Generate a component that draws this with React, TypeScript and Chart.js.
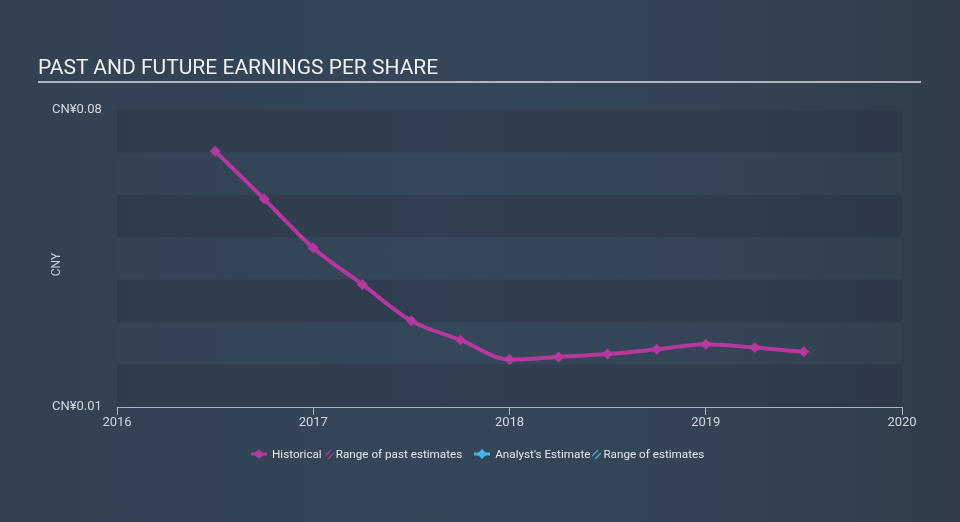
import React, { useEffect, useRef } from "react";
import { Chart, registerables } from "chart.js";

Chart.register(...registerables);

// ---- data ----
const periods = [2016.5, 2016.75, 2017.0, 2017.25, 2017.5, 2017.75, 2018.0, 2018.25, 2018.5, 2018.75, 2019.0, 2019.25, 2019.5];
const eps = [0.0703, 0.059, 0.0475, 0.0389, 0.0303, 0.0258, 0.0212, 0.0218, 0.0225, 0.0236, 0.0248, 0.024, 0.023];
const yTickValues = [0.01, 0.08];
const bandStep = 0.01;
const xMin = 2016;
const xMax = 2020;
const titleText = "PAST AND FUTURE EARNINGS PER SHARE";
const axisTitle = "CNY";
const currency = "CN¥";

const HIST = "#b5389f";
const EST = "#45b4df";
const FONT = "Roboto, 'Noto Sans', sans-serif";

const bandsPlugin = {
  id: "bands",
  beforeDatasetsDraw(chart: any) {
    const { ctx, chartArea, scales } = chart;
    const y = scales.y;
    const lo = yTickValues[0];
    const hi = yTickValues[yTickValues.length - 1];
    const n = Math.round((hi - lo) / bandStep);
    ctx.save();
    for (let i = 0; i < n; i++) {
      const v0 = lo + i * bandStep;
      const v1 = v0 + bandStep;
      const p0 = y.getPixelForValue(v0);
      const p1 = y.getPixelForValue(v1);
      ctx.fillStyle = i % 2 === 0 ? "rgba(36,48,62,0.32)" : "rgba(62,80,98,0.12)";
      ctx.fillRect(chartArea.left, p1, chartArea.right - chartArea.left, p0 - p1);
    }
    ctx.restore();
  },
};

const axisTitlePlugin = {
  id: "axisTitleCustom",
  afterDraw(chart: any) {
    const { ctx, chartArea } = chart;
    ctx.save();
    ctx.translate(57, (chartArea.top + chartArea.bottom) / 2 + 6);
    ctx.rotate(-Math.PI / 2);
    ctx.fillStyle = "#c9cfd6";
    ctx.font = `12px ${FONT}`;
    ctx.textAlign = "center";
    ctx.textBaseline = "middle";
    ctx.fillText(axisTitle, 0, 0);
    ctx.restore();
  },
};

function Marker({ color }: { color: string }) {
  return (
    <svg width="16" height="12" viewBox="0 0 16 12" style={{ display: "block" }}>
      <line x1="0" y1="6" x2="16" y2="6" stroke={color} strokeWidth="3" />
      <rect x="4.5" y="2.5" width="7" height="7" fill={color} transform="rotate(45 8 6)" />
    </svg>
  );
}

function Hatch({ color }: { color: string }) {
  return (
    <svg width="9" height="10" viewBox="0 0 9 10" style={{ display: "block" }}>
      <line x1="0" y1="7" x2="6" y2="1" stroke={color} strokeWidth="1.2" />
      <line x1="3" y1="10" x2="9" y2="4" stroke={color} strokeWidth="1.2" />
    </svg>
  );
}

export default function App() {
  const canvasRef = useRef<HTMLCanvasElement | null>(null);

  useEffect(() => {
    const canvas = canvasRef.current;
    if (!canvas) return;
    const chart = new Chart(canvas, {
      type: "line",
      data: {
        datasets: [
          {
            label: "Historical",
            data: periods.map((p, i) => ({ x: p, y: eps[i] })),
            borderColor: HIST,
            backgroundColor: HIST,
            borderWidth: 4,
            pointStyle: "rectRot",
            pointRadius: 5.5,
            pointBorderWidth: 0,
            pointBackgroundColor: HIST,
            cubicInterpolationMode: "monotone",
            fill: false,
          },
        ],
      },
      options: {
        animation: false,
        responsive: false,
        devicePixelRatio: 1,
        layout: { padding: { left: 52, right: 58, top: 110, bottom: 85 } },
        plugins: {
          legend: { display: false },
          tooltip: { enabled: false },
          title: { display: false },
        },
        scales: {
          x: {
            type: "linear",
            min: xMin,
            max: xMax,
            afterFit: (s: any) => {
              s.height = 30;
            },
            ticks: {
              stepSize: 1,
              color: "#d3d8de",
              font: { family: FONT, size: 13 },
              padding: 0,
              maxRotation: 0,
              callback: (v: any) => String(v),
            },
            grid: {
              display: true,
              drawOnChartArea: false,
              drawTicks: true,
              tickLength: 8,
              color: "#aab5c1",
              lineWidth: 1,
            },
            border: { display: true, color: "#aab5c1", width: 1 },
          },
          y: {
            type: "linear",
            min: yTickValues[0],
            max: yTickValues[yTickValues.length - 1],
            afterFit: (s: any) => {
              s.width = 65;
            },
            afterBuildTicks: (s: any) => {
              s.ticks = yTickValues.map((v) => ({ value: v }));
            },
            ticks: {
              crossAlign: "far",
              color: "#d3d8de",
              font: { family: FONT, size: 13 },
              callback: (v: any) => currency + Number(v).toFixed(2),
            },
            grid: { display: false, drawTicks: false },
            border: { display: false },
          },
        },
      },
      plugins: [bandsPlugin, axisTitlePlugin],
    } as any);
    return () => chart.destroy();
  }, []);

  const legendText: React.CSSProperties = {
    color: "#e4e7ea",
    fontSize: 11.7,
    fontFamily: FONT,
    whiteSpace: "nowrap",
  };

  return (
    <div
      style={{
        position: "fixed",
        left: 0,
        top: 0,
        width: 960,
        height: 522,
        overflow: "hidden",
        background:
          "linear-gradient(90deg, #324152 0%, #35465a 45%, #344456 75%, #303c49 100%)",
        fontFamily: FONT,
      }}
    >
      <canvas
        ref={canvasRef}
        width={960}
        height={522}
        style={{ position: "absolute", left: 0, top: 0, width: 960, height: 522 }}
      />
      <div
        style={{
          position: "absolute",
          left: 38,
          top: 57,
          fontSize: 21,
          lineHeight: "21px",
          color: "#eef0f2",
          whiteSpace: "nowrap",
        }}
      >
        {titleText}
      </div>
      <div
        style={{
          position: "absolute",
          left: 38,
          top: 81,
          width: 883,
          height: 2,
          background: "#aeb5bd",
        }}
      />
      <div
        style={{
          position: "absolute",
          left: 251,
          top: 446,
          height: 16,
          display: "flex",
          alignItems: "center",
        }}
      >
        <Marker color={HIST} />
        <span style={{ ...legendText, marginLeft: 5 }}>Historical</span>
        <span style={{ marginLeft: 3 }}>
          <Hatch color={HIST} />
        </span>
        <span style={{ ...legendText, marginLeft: 2 }}>Range of past estimates</span>
        <span style={{ marginLeft: 12 }}>
          <Marker color={EST} />
        </span>
        <span style={{ ...legendText, marginLeft: 5 }}>Analyst's Estimate</span>
        <span style={{ marginLeft: 2 }}>
          <Hatch color={EST} />
        </span>
        <span style={{ ...legendText, marginLeft: 2 }}>Range of estimates</span>
      </div>
    </div>
  );
}
